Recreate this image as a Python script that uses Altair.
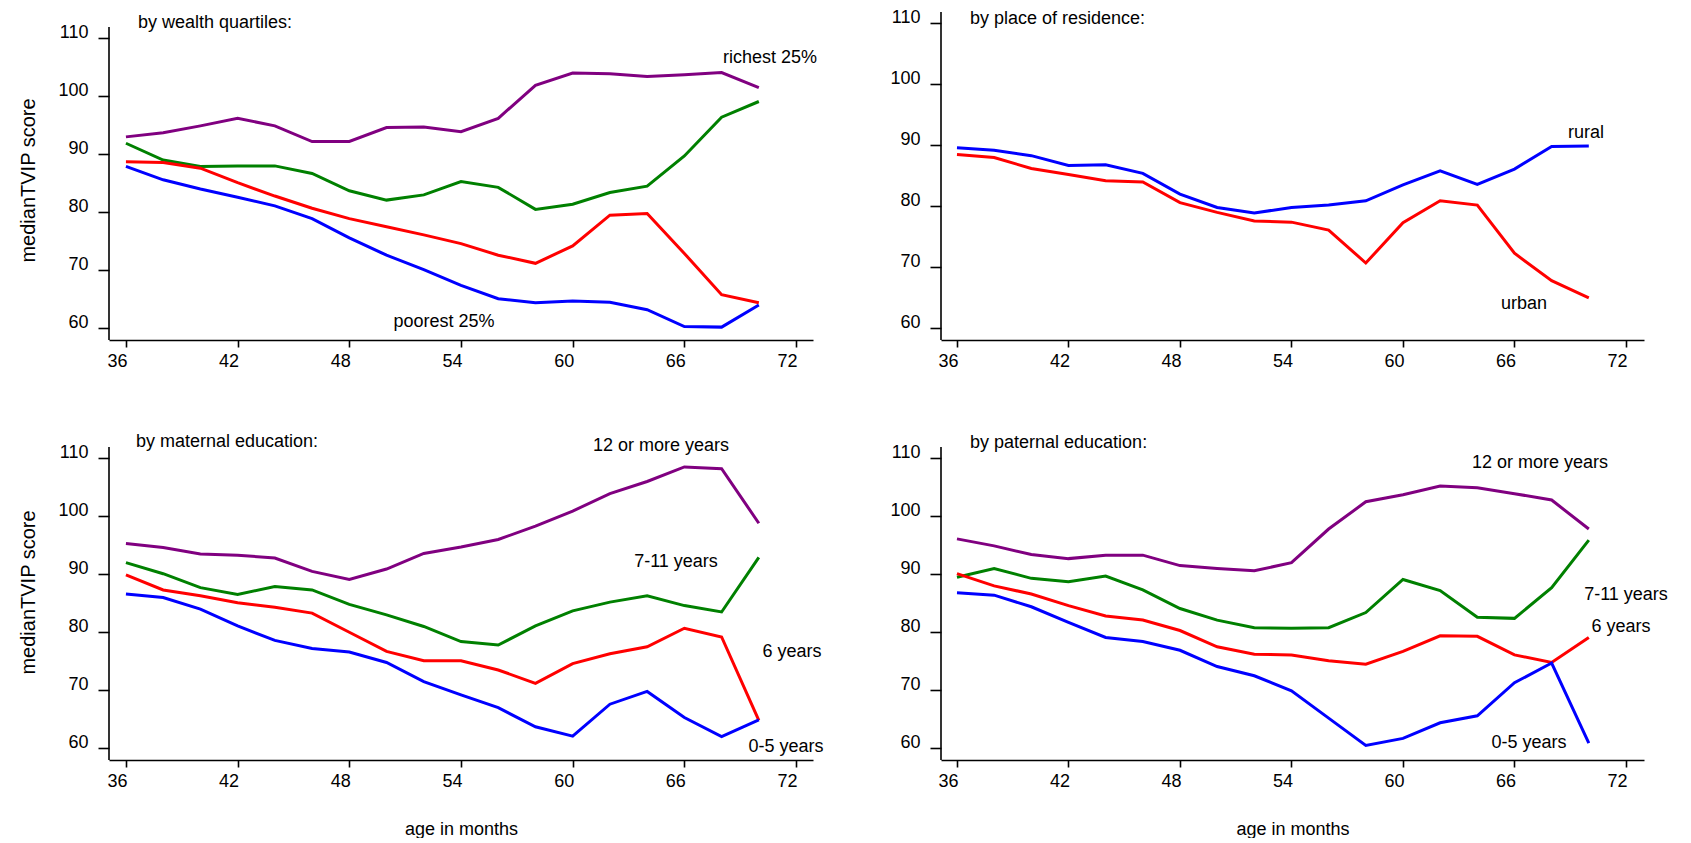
import altair as alt
import pandas as pd

# ---------------- data ----------------
ages = [36, 38, 40, 42, 44, 46, 48, 50, 52, 54, 56, 58, 60, 62, 64, 66, 68, 70]

wealth_groups = ["richest 25%", "3rd quartile", "2nd quartile", "poorest 25%"]
wealth_richest = [93.0, 93.7, 94.9, 96.2, 94.9, 92.2, 92.2, 94.6, 94.7, 93.9, 96.2, 101.9, 104.0, 103.9, 103.4, 103.7, 104.1, 101.5]
wealth_q3 = [91.9, 89.0, 87.9, 88.0, 88.0, 86.7, 83.7, 82.1, 83.0, 85.3, 84.3, 80.5, 81.4, 83.4, 84.5, 89.7, 96.4, 99.1]
wealth_q2 = [88.7, 88.6, 87.6, 85.1, 82.8, 80.7, 78.9, 77.5, 76.1, 74.6, 72.6, 71.2, 74.2, 79.5, 79.8, 72.9, 65.8, 64.4]
wealth_poorest = [87.9, 85.6, 84.0, 82.6, 81.1, 78.9, 75.6, 72.6, 70.1, 67.4, 65.1, 64.4, 64.7, 64.5, 63.2, 60.3, 60.2, 64.0]

res_groups = ["rural", "urban"]
res_rural = [89.6, 89.2, 88.3, 86.7, 86.8, 85.4, 82.0, 79.8, 78.9, 79.8, 80.2, 80.9, 83.5, 85.8, 83.6, 86.1, 89.8, 89.9]
res_urban = [88.5, 88.0, 86.2, 85.2, 84.2, 84.0, 80.6, 79.0, 77.6, 77.4, 76.1, 70.7, 77.3, 80.9, 80.2, 72.3, 67.8, 65.0]

edu_groups = ["12 or more years", "7-11 years", "6 years", "0-5 years"]
mat_12 = [95.3, 94.6, 93.5, 93.3, 92.8, 90.5, 89.1, 90.9, 93.6, 94.7, 96.0, 98.3, 100.9, 103.9, 106.0, 108.5, 108.2, 98.8]
mat_7_11 = [92.0, 90.1, 87.7, 86.5, 87.9, 87.3, 84.8, 83.0, 81.0, 78.4, 77.8, 81.1, 83.7, 85.2, 86.3, 84.6, 83.5, 92.9]
mat_6 = [89.9, 87.3, 86.3, 85.1, 84.3, 83.3, 80.0, 76.7, 75.1, 75.1, 73.5, 71.2, 74.6, 76.3, 77.5, 80.7, 79.2, 64.8]
mat_0_5 = [86.6, 86.0, 84.0, 81.1, 78.6, 77.2, 76.6, 74.8, 71.5, 69.2, 67.0, 63.7, 62.1, 67.6, 69.8, 65.3, 62.0, 64.9]

pat_12 = [96.1, 94.9, 93.4, 92.7, 93.3, 93.3, 91.5, 91.0, 90.6, 92.0, 97.8, 102.5, 103.7, 105.2, 104.9, 103.9, 102.8, 97.8]
pat_7_11 = [89.5, 91.0, 89.3, 88.7, 89.7, 87.3, 84.1, 82.1, 80.8, 80.7, 80.8, 83.4, 89.1, 87.2, 82.6, 82.4, 87.7, 95.9]
pat_6 = [90.1, 88.0, 86.6, 84.6, 82.8, 82.1, 80.3, 77.5, 76.2, 76.1, 75.1, 74.5, 76.7, 79.4, 79.3, 76.1, 74.8, 79.1]
pat_0_5 = [86.8, 86.4, 84.4, 81.7, 79.1, 78.4, 76.9, 74.1, 72.5, 69.9, 65.2, 60.5, 61.7, 64.4, 65.6, 71.3, 74.7, 60.9]

x_ticks = [36, 42, 48, 54, 60, 66, 72]
y_ticks = [60, 70, 80, 90, 100, 110]

PURPLE = "#800080"
GREEN = "#008000"
RED = "#ff0000"
BLUE = "#0000ff"

FONT = "Liberation Sans"
FS = 18
H = 328


def make_panel(groups, series, colors, width, xdom, ydom, rule_top, ytitle, ytitle_y,
               xtitle, subtitle, labels):
    rows = []
    for g, vals in zip(groups, series):
        for a, v in zip(ages, vals):
            rows.append({"age": a, "score": v, "group": g})
    df = pd.DataFrame(rows)

    x_axis_kw = dict(values=x_ticks, grid=False, domain=True, domainColor="black",
                     domainWidth=1.6, tickColor="black", tickWidth=1.6, tickSize=7,
                     labelFont=FONT, labelFontSize=FS, labelColor="black",
                     labelPadding=5, labelOffset=-9, labelFlush=False)
    if xtitle:
        x_axis_kw.update(title=xtitle, titleFont=FONT, titleFontSize=FS,
                         titleFontWeight="normal", titleColor="black",
                         titleBaseline="alphabetic", titleY=74)
    else:
        x_axis_kw.update(title=None)

    y_axis_kw = dict(values=y_ticks, grid=False, domain=False, tickColor="black",
                     tickWidth=1.6, tickSize=11, labelFont=FONT, labelFontSize=FS,
                     labelColor="black", labelPadding=10, labelOffset=-6,
                     labelFlush=False)
    if ytitle:
        y_axis_kw.update(title=ytitle, titleFont=FONT, titleFontSize=20,
                         titleFontWeight="normal", titleColor="black",
                         titleAngle=270, titleAlign="center", titleBaseline="bottom",
                         titleX=-71, titleY=ytitle_y)
    else:
        y_axis_kw.update(title=None)

    x = alt.X("age:Q", scale=alt.Scale(domain=xdom, nice=False, zero=False),
              axis=alt.Axis(**x_axis_kw))
    y = alt.Y("score:Q", scale=alt.Scale(domain=ydom, nice=False, zero=False),
              axis=alt.Axis(**y_axis_kw))

    lines = alt.Chart(df).mark_line(strokeWidth=3, clip=False).encode(
        x=x, y=y,
        color=alt.Color("group:N", scale=alt.Scale(domain=groups, range=colors),
                        legend=None),
    )

    one = pd.DataFrame({"k": [0]})
    yrule = alt.Chart(one).mark_rule(color="black", strokeWidth=1.6).encode(
        x=alt.value(0), y=alt.value(rule_top), y2=alt.value(H)
    )

    layers = [lines, yrule]
    sub = alt.Chart(one).mark_text(
        align="left", baseline="middle", font=FONT, fontSize=FS, color="black"
    ).encode(x=alt.value(subtitle[1]), y=alt.value(subtitle[2]),
             text=alt.value(subtitle[0]))
    layers.append(sub)
    for txt, px, py in labels:
        layers.append(
            alt.Chart(one).mark_text(
                align="center", baseline="middle", font=FONT, fontSize=FS,
                color="black"
            ).encode(x=alt.value(px), y=alt.value(py), text=alt.value(txt))
        )
    return alt.layer(*layers).properties(width=width, height=H)


XDOM_L = [35.09, 72.91]
XDOM_R = [35.14, 72.97]
YDOM_A = [57.98, 114.53]
YDOM_B = [58.08, 111.85]

tl = make_panel(
    wealth_groups, [wealth_richest, wealth_q3, wealth_q2, wealth_poorest],
    [PURPLE, GREEN, RED, BLUE], 704, XDOM_L, YDOM_A, 15,
    "medianTVIP score", 168, None,
    ("by wealth quartiles:", 29, 11),
    [("richest 25%", 661, 46), ("poorest 25%", 335, 310)],
)

tr = make_panel(
    res_groups, [res_rural, res_urban], [BLUE, RED], 703, XDOM_R, YDOM_B, 0,
    None, 0, None,
    ("by place of residence:", 29, 7),
    [("rural", 645, 121), ("urban", 583, 292)],
)

bl = make_panel(
    edu_groups, [mat_12, mat_7_11, mat_6, mat_0_5], [PURPLE, GREEN, RED, BLUE],
    704, XDOM_L, YDOM_A, 15,
    "medianTVIP score", 160, "age in months",
    ("by maternal education:", 27, 10),
    [("12 or more years", 552, 14), ("7-11 years", 567, 130),
     ("6 years", 683, 220), ("0-5 years", 677, 315)],
)

br = make_panel(
    edu_groups, [pat_12, pat_7_11, pat_6, pat_0_5], [PURPLE, GREEN, RED, BLUE],
    703, XDOM_R, YDOM_A, 15,
    None, 0, "age in months",
    ("by paternal education:", 29, 11),
    [("12 or more years", 599, 31), ("7-11 years", 685, 163),
     ("6 years", 680, 195), ("0-5 years", 588, 311)],
)

chart = alt.concat(
    tl, tr, bl, br, columns=2,
    spacing=alt.RowColnumber(row=92, column=128), bounds="flush"
).resolve_scale(color="independent", x="independent", y="independent").properties(
    padding={"left": 10, "top": 0, "right": 5, "bottom": 0}
).configure_view(strokeWidth=0)

chart.save("out.html", embed_options={"renderer": "svg", "actions": False})
